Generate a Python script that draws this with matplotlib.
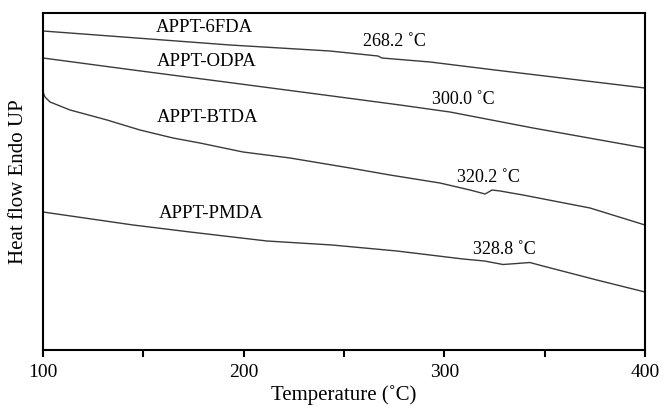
import matplotlib
matplotlib.use('Agg')
import matplotlib.pyplot as plt
from matplotlib.ticker import MultipleLocator

plt.rcParams['font.family'] = ['Liberation Serif', 'DejaVu Serif']

# Curvas DSC (unidades arbitrarias)
t_6fda = [100, 193.2, 243, 266.9, 268.9, 292.9, 325.2, 400]
hf_6fda = [319, 305, 299, 294, 292, 288, 280, 262]

t_odpa = [100, 144.9, 194.7, 244, 277.9, 302.8, 344.2, 400]
hf_odpa = [292, 280, 267, 254, 245, 238, 222, 202]

t_btda = [100, 101, 103.5, 113.5, 131.9, 148.3, 164.8, 178.2, 199.7, 223.1,
          253, 272.9, 297.8, 312.8, 320.3, 323.8, 327.8, 339.2, 372.6, 400]
hf_btda = [258, 253, 248, 240, 230, 220, 212, 207, 198, 192,
           182, 175, 167, 160, 156, 160, 159, 155, 142, 125]

t_pmda = [100, 144.9, 173.3, 211.6, 244, 276.4, 309.3, 320, 329.2, 336.2,
          342.6, 349.1, 376, 400]
hf_pmda = [138, 125, 118, 109, 105, 99, 91, 89, 85.5, 86.5,
           87.5, 84, 70, 58]

names = ['APPT-6FDA', 'APPT-ODPA', 'APPT-BTDA', 'APPT-PMDA']
name_pos = [(180.5, 323), (181.7, 288), (182, 233), (184, 137)]
tg_labels = ['268.2 ˚C', '300.0 ˚C', '320.2 ˚C', '328.8 ˚C']
tg_pos = [(274.9, 308), (309.3, 250), (321.8, 172), (329.7, 101)]

fig = plt.figure(figsize=(6.64, 4.11), dpi=100)
ax = fig.add_axes([43 / 664, 61 / 411, 602 / 664, 337 / 411])

for t, hf in [(t_6fda, hf_6fda), (t_odpa, hf_odpa), (t_btda, hf_btda), (t_pmda, hf_pmda)]:
    ax.plot(t, hf, color='#3a3a3a', linewidth=1.0)

for name, (x, y) in zip(names, name_pos):
    ax.text(x, y, name, fontsize=13.5, ha='center', va='center')
for lab, (x, y) in zip(tg_labels, tg_pos):
    ax.text(x, y, lab, fontsize=13, ha='center', va='center')

ax.set_xlim(100, 400)
ax.set_ylim(0, 337)
ax.xaxis.set_major_locator(MultipleLocator(100))
ax.xaxis.set_minor_locator(MultipleLocator(50))
ax.tick_params(axis='x', which='both', direction='out', length=5, width=1.5,
               labelsize=14, pad=5)
ax.set_yticks([])
for s in ax.spines.values():
    s.set_linewidth(1.5)

ax.set_xlabel('Temperature (˚C)', fontsize=15, labelpad=3)
ax.set_ylabel('Heat flow Endo UP', fontsize=15, labelpad=11)

fig.savefig('out.png', dpi=100)
